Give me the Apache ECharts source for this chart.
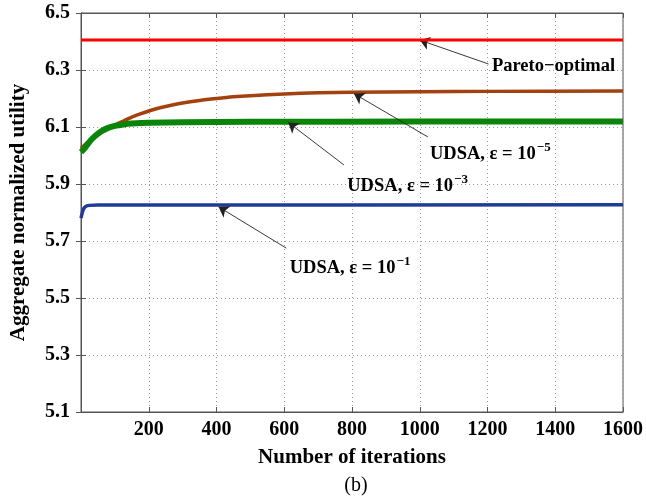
<!DOCTYPE html>
<html>
<head>
<meta charset="utf-8">
<script src="https://cdn.jsdelivr.net/npm/echarts@6/dist/echarts.min.js"></script>
<style>html,body{margin:0;padding:0;background:#fff;}#c{width:646px;height:500px;}</style>
</head>
<body>
<div id="c"></div>
<script>
// ---- data ----
const xTicks = [0, 200, 400, 600, 800, 1000, 1200, 1400, 1600];
const yTicks = [5.1, 5.3, 5.5, 5.7, 5.9, 6.1, 6.3, 6.5];

const paretoX = [0, 1600];
const paretoY = [6.405, 6.405];

const eps5X = [0, 10, 20, 30, 45, 60, 80, 100, 125, 150, 175, 200, 225, 250, 300, 350, 400, 450, 500, 600, 700, 800, 1000, 1200, 1600];
const eps5Y = [6.025, 6.036, 6.046, 6.056, 6.068, 6.080, 6.095, 6.107, 6.121, 6.135, 6.146, 6.156, 6.165, 6.172, 6.184, 6.193, 6.200, 6.206, 6.210, 6.216, 6.220, 6.222, 6.224, 6.225, 6.226];

const eps3X = [0, 10, 20, 30, 45, 60, 80, 100, 125, 150, 200, 300, 500, 1000, 1600];
const eps3Y = [6.012, 6.024, 6.040, 6.055, 6.072, 6.085, 6.097, 6.104, 6.109, 6.112, 6.115, 6.117, 6.118, 6.119, 6.119];

const eps1X = [0, 3, 6, 10, 15, 25, 50, 1600];
const eps1Y = [5.780, 5.795, 5.808, 5.817, 5.822, 5.825, 5.826, 5.827];

// annotations (data coordinates): [tailX, tailY, headX, headY, textX, textY]
const annPareto = [1203, 6.321, 1000, 6.405, 1213, 6.312];
const annEps5 = [1024, 6.065, 806, 6.217, 1030, 6.005];
const annEps3 = [776, 5.967, 612, 6.116, 786, 5.893];
const annEps1 = [606, 5.675, 406, 5.820, 616, 5.606];
const annTexts = ['Pareto\u2212optimal', ['UDSA, \u03b5 = 10', '\u22125'], ['UDSA, \u03b5 = 10', '\u22123'], ['UDSA, \u03b5 = 10', '\u22121']];

const zip = (xs, ys) => xs.map((x, i) => [x, ys[i]]);
const FONT = '"Liberation Serif", "Times New Roman", serif';

function annotate(a, txt) {
  const fmt = Array.isArray(txt) ? '{b|' + txt[0] + '}{s|' + txt[1] + '}' : '{b|' + txt + '}';
  return {
    markLine: {
      silent: true,
      symbol: ['none', 'arrow'],
      symbolSize: 10,
      lineStyle: { color: '#222', width: 0.9, type: 'solid' },
      itemStyle: { color: '#111' },
      label: { show: false },
      emphasis: { disabled: true },
      data: [[{ coord: [a[0], a[1]] }, { coord: [a[2], a[3]] }]]
    },
    markPoint: {
      silent: true,
      symbol: 'circle',
      symbolSize: 0,
      data: [{ coord: [a[4], a[5]] }],
      label: {
        show: true, position: 'right', distance: 0,
        formatter: fmt,
        rich: {
          b: { fontFamily: FONT, fontWeight: 'bold', fontSize: 18.5, color: '#000', lineHeight: 24 },
          s: { fontFamily: FONT, fontWeight: 'bold', fontSize: 13, color: '#000', lineHeight: 24, padding: [0, 0, 12, 1] }
        }
      }
    }
  };
}

const chart = echarts.init(document.getElementById('c'), null, { renderer: 'canvas' });
const axisColor = '#555';
chart.setOption({
  animation: false,
  backgroundColor: '#fff',
  grid: { left: 79, right: 23, top: 13, bottom: 88, show: true, borderColor: axisColor, borderWidth: 1 },
  title: {
    text: '(b)', left: 351, top: 471, textAlign: 'center',
    textStyle: { fontFamily: FONT, fontWeight: 'normal', fontSize: 20, color: '#000' }
  },
  xAxis: [{
    type: 'value', min: xTicks[0], max: xTicks[xTicks.length - 1], interval: xTicks[1] - xTicks[0],
    name: 'Number of iterations', nameLocation: 'middle', nameGap: 35,
    nameTextStyle: { fontFamily: FONT, fontWeight: 'bold', fontSize: 21, color: '#000' },
    axisLine: { show: true, lineStyle: { color: axisColor } },
    axisTick: { show: true, inside: true, length: 5, lineStyle: { color: axisColor } },
    axisLabel: { margin: 8, fontFamily: FONT, fontWeight: 'bold', fontSize: 20, color: '#000',
      formatter: v => (v === 0 ? '' : String(v)) },
    splitLine: { show: true, lineStyle: { color: '#999', type: [1, 3], width: 1 } }
  }, {
    type: 'value', position: 'top', min: xTicks[0], max: xTicks[xTicks.length - 1], interval: xTicks[1] - xTicks[0],
    axisLine: { show: true, lineStyle: { color: axisColor } },
    axisTick: { show: true, inside: true, length: 5, lineStyle: { color: axisColor } },
    axisLabel: { show: false }, splitLine: { show: false }
  }],
  yAxis: [{
    type: 'value', min: yTicks[0], max: yTicks[yTicks.length - 1], interval: 0.2,
    name: 'Aggregate normalized utility', nameLocation: 'middle', nameGap: 52,
    nameTextStyle: { fontFamily: FONT, fontWeight: 'bold', fontSize: 21, color: '#000' },
    axisLine: { show: true, lineStyle: { color: axisColor } },
    axisTick: { show: true, inside: true, length: 5, lineStyle: { color: axisColor } },
    axisLabel: { margin: 11, fontFamily: FONT, fontWeight: 'bold', fontSize: 20, color: '#000',
      formatter: v => v.toFixed(1) },
    splitLine: { show: true, lineStyle: { color: '#999', type: [1, 3], width: 1 } }
  }, {
    type: 'value', position: 'right', min: yTicks[0], max: yTicks[yTicks.length - 1], interval: 0.2,
    axisLine: { show: true, lineStyle: { color: axisColor } },
    axisTick: { show: true, inside: true, length: 5, lineStyle: { color: axisColor } },
    axisLabel: { show: false }, splitLine: { show: false }
  }],
  series: [
    Object.assign({ type: 'line', name: 'Pareto-optimal', data: zip(paretoX, paretoY), showSymbol: false,
      lineStyle: { color: '#ff0000', width: 3 }, z: 5 }, annotate(annPareto, annTexts[0])),
    Object.assign({ type: 'line', name: 'eps5', data: zip(eps5X, eps5Y), showSymbol: false, smooth: 0.25,
      lineStyle: { color: '#a3410f', width: 3.5 }, z: 3 }, annotate(annEps5, annTexts[1])),
    Object.assign({ type: 'line', name: 'eps3', data: zip(eps3X, eps3Y), showSymbol: false, smooth: 0.25,
      lineStyle: { color: '#0a850a', width: 6 }, z: 4 }, annotate(annEps3, annTexts[2])),
    Object.assign({ type: 'line', name: 'eps1', data: zip(eps1X, eps1Y), showSymbol: false, smooth: 0.25,
      lineStyle: { color: '#1f3c96', width: 3.5 }, z: 4 }, annotate(annEps1, annTexts[3]))
  ]
});
</script>
</body>
</html>
